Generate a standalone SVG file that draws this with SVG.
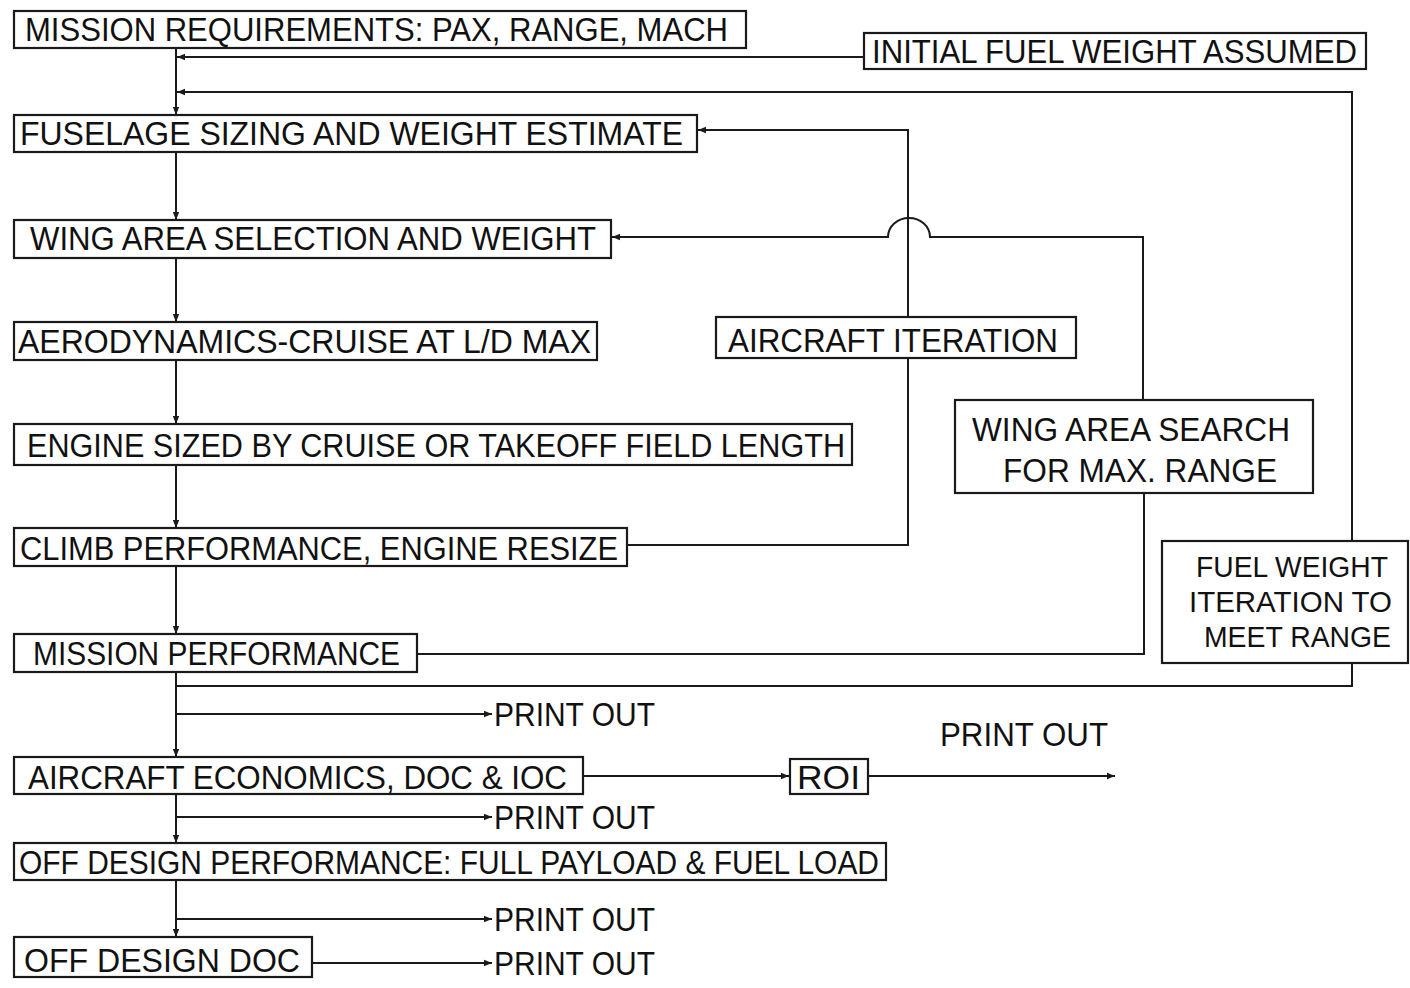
<svg xmlns="http://www.w3.org/2000/svg" width="1410" height="988" viewBox="0 0 1410 988">
<style>
.b{fill:#fff;stroke:#1a1a1a;stroke-width:2.2}
.t{font-family:"Liberation Sans","DejaVu Sans",sans-serif;font-size:34px;fill:#111}
.f{font-size:30px}
.c{fill:none;stroke:#1a1a1a;stroke-width:2}
</style>
<defs>
<marker id="a" viewBox="0 0 10 10" refX="10" refY="5" markerWidth="8" markerHeight="8" markerUnits="userSpaceOnUse" orient="auto"><path d="M0,1 L10,5 L0,9 z" fill="#1a1a1a"/></marker>
</defs>
<rect width="1410" height="988" fill="#fff"/>
<g id="connectors">
<path class="c" d="M176,48 V115" marker-end="url(#a)"/>
<path class="c" d="M176,152 V220" marker-end="url(#a)"/>
<path class="c" d="M176,258 V322" marker-end="url(#a)"/>
<path class="c" d="M176,360 V424" marker-end="url(#a)"/>
<path class="c" d="M176,465 V528" marker-end="url(#a)"/>
<path class="c" d="M176,566 V634" marker-end="url(#a)"/>
<path class="c" d="M176,672 V757" marker-end="url(#a)"/>
<path class="c" d="M176,794 V843" marker-end="url(#a)"/>
<path class="c" d="M176,880 V937" marker-end="url(#a)"/>
<path class="c" d="M864,57 H177" marker-end="url(#a)"/>
<path class="c" d="M1352,541 V92 H177" marker-end="url(#a)"/>
<path class="c" d="M176,686 H1352 V663"/>
<path class="c" d="M627,545 H908 V130 H698" marker-end="url(#a)"/>
<path class="c" d="M418,654 H1144 V493"/>
<path class="c" d="M1143,400 V237 H930 A21 19 0 0 0 888 237 H612" marker-end="url(#a)"/>
<path class="c" d="M176,714 H492" marker-end="url(#a)"/>
<path class="c" d="M176,817 H492" marker-end="url(#a)"/>
<path class="c" d="M176,919 H492" marker-end="url(#a)"/>
<path class="c" d="M312,963 H492" marker-end="url(#a)"/>
<path class="c" d="M584,776 H789" marker-end="url(#a)"/>
<path class="c" d="M868,776 H1115" marker-end="url(#a)"/>
</g>
<g id="n-mission-req"><rect class="b" x="14" y="11" width="732" height="37"/><text class="t" x="25" y="41" textLength="703" lengthAdjust="spacingAndGlyphs">MISSION REQUIREMENTS: PAX, RANGE, MACH</text></g>
<g id="n-initial-fuel"><rect class="b" x="864" y="33" width="502" height="36"/><text class="t" x="872" y="63" textLength="485" lengthAdjust="spacingAndGlyphs">INITIAL FUEL WEIGHT ASSUMED</text></g>
<g id="n-fuselage"><rect class="b" x="14" y="115" width="683" height="37"/><text class="t" x="20" y="145" textLength="663" lengthAdjust="spacingAndGlyphs">FUSELAGE SIZING AND WEIGHT ESTIMATE</text></g>
<g id="n-wing-sel"><rect class="b" x="14" y="220" width="597" height="38"/><text class="t" x="30" y="250" textLength="566" lengthAdjust="spacingAndGlyphs">WING AREA SELECTION AND WEIGHT</text></g>
<g id="n-aero"><rect class="b" x="14" y="322" width="583" height="38"/><text class="t" x="18" y="353" textLength="573" lengthAdjust="spacingAndGlyphs">AERODYNAMICS-CRUISE AT L/D MAX</text></g>
<g id="n-engine"><rect class="b" x="14" y="424" width="838" height="41"/><text class="t" x="27" y="457" textLength="818" lengthAdjust="spacingAndGlyphs">ENGINE SIZED BY CRUISE OR TAKEOFF FIELD LENGTH</text></g>
<g id="n-climb"><rect class="b" x="14" y="528" width="613" height="38"/><text class="t" x="20" y="560" textLength="598" lengthAdjust="spacingAndGlyphs">CLIMB PERFORMANCE, ENGINE RESIZE</text></g>
<g id="n-mission-perf"><rect class="b" x="14" y="634" width="403" height="38"/><text class="t" x="33" y="665" textLength="367" lengthAdjust="spacingAndGlyphs">MISSION PERFORMANCE</text></g>
<g id="n-aircraft-iter"><rect class="b" x="716" y="317" width="360" height="41"/><text class="t" x="728" y="352" textLength="330" lengthAdjust="spacingAndGlyphs">AIRCRAFT ITERATION</text></g>
<g id="n-wing-search"><rect class="b" x="955" y="400" width="358" height="93"/><text class="t" x="972" y="441" textLength="318" lengthAdjust="spacingAndGlyphs">WING AREA SEARCH</text><text class="t" x="1003" y="482" textLength="274" lengthAdjust="spacingAndGlyphs">FOR MAX. RANGE</text></g>
<g id="n-fuel-iter"><rect class="b" x="1162" y="541" width="246" height="122"/><text class="t f" x="1196" y="577" textLength="192" lengthAdjust="spacingAndGlyphs">FUEL WEIGHT</text><text class="t f" x="1189" y="612" textLength="203" lengthAdjust="spacingAndGlyphs">ITERATION TO</text><text class="t f" x="1204" y="647" textLength="187" lengthAdjust="spacingAndGlyphs">MEET RANGE</text></g>
<g id="n-economics"><rect class="b" x="14" y="757" width="569" height="37"/><text class="t" x="28" y="789" textLength="539" lengthAdjust="spacingAndGlyphs">AIRCRAFT ECONOMICS, DOC &amp; IOC</text></g>
<g id="n-roi"><rect class="b" x="790" y="759" width="78" height="35"/><text class="t" x="797" y="789" textLength="63" lengthAdjust="spacingAndGlyphs">ROI</text></g>
<g id="n-offdesign-perf"><rect class="b" x="14" y="843" width="872" height="37"/><text class="t" x="19" y="874" textLength="860" lengthAdjust="spacingAndGlyphs">OFF DESIGN PERFORMANCE: FULL PAYLOAD &amp; FUEL LOAD</text></g>
<g id="n-offdesign-doc"><rect class="b" x="14" y="937" width="298" height="40"/><text class="t" x="24" y="972" textLength="276" lengthAdjust="spacingAndGlyphs">OFF DESIGN  DOC</text></g>
<g id="labels">
<text class="t" x="494" y="726" textLength="161" lengthAdjust="spacingAndGlyphs">PRINT OUT</text>
<text class="t" x="940" y="746" textLength="168" lengthAdjust="spacingAndGlyphs">PRINT OUT</text>
<text class="t" x="494" y="829" textLength="161" lengthAdjust="spacingAndGlyphs">PRINT OUT</text>
<text class="t" x="494" y="931" textLength="161" lengthAdjust="spacingAndGlyphs">PRINT OUT</text>
<text class="t" x="494" y="975" textLength="161" lengthAdjust="spacingAndGlyphs">PRINT OUT</text>
</g>
</svg>
